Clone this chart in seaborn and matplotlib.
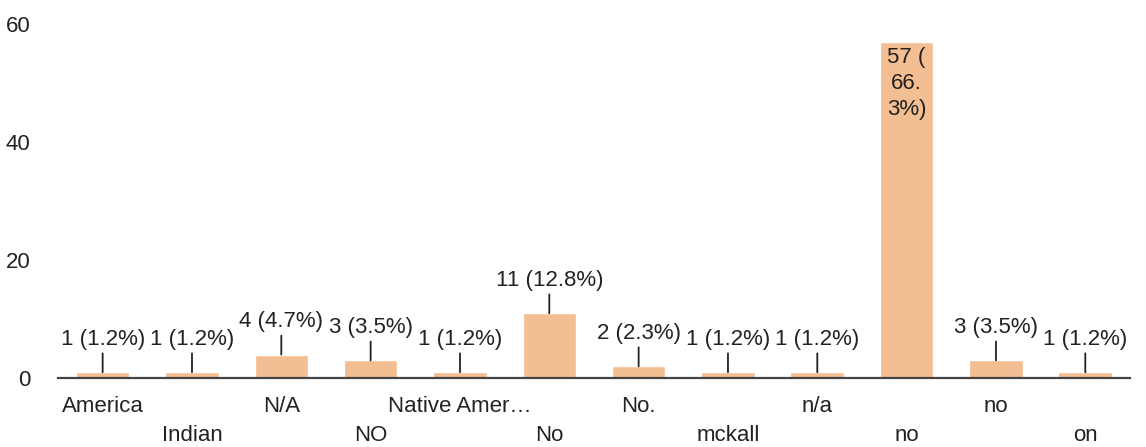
import numpy as np
import pandas as pd
import matplotlib
matplotlib.use("Agg")
import matplotlib.pyplot as plt
import seaborn as sns

categories = ["America", "Indian", "N/A", "NO", "Native Amer…", "No", "No.",
              "mckall", "n/a", "no", "no", "on"]
counts = [1, 1, 4, 3, 1, 11, 2, 1, 1, 57, 3, 1]
percents = ["1.2%", "1.2%", "4.7%", "3.5%", "1.2%", "12.8%", "2.3%",
            "1.2%", "1.2%", "66.3%", "3.5%", "1.2%"]
y_ticks = [0, 20, 40, 60]

sns.set_theme(style="white")
plt.rcParams['font.family'] = ['Liberation Sans', 'DejaVu Sans']

FS = 16

fig = plt.figure(figsize=(11.46, 4.47), dpi=100)
ax = fig.add_axes([0.0506, 0.154, 0.9354, 0.792])

df = pd.DataFrame({"pos": np.arange(len(categories)), "count": counts})
sns.barplot(data=df, x="pos", y="count", color="#F3BE92", saturation=1,
            width=0.6, ax=ax)

ax.set_ylim(0, 60)
ax.set_xlim(-0.5, len(categories) - 0.5)
ax.set_yticks(y_ticks)
ax.set_yticklabels([str(t) for t in y_ticks], fontsize=FS, color="#222222")
ax.tick_params(axis="y", length=0, pad=20)
ax.set_xlabel("")
ax.set_ylabel("")

ax.set_xticks(np.arange(len(categories)))
ax.set_xticklabels(categories, fontsize=FS, color="#222222")
ax.tick_params(axis="x", length=0)
for i, t in enumerate(ax.xaxis.get_major_ticks()):
    t.set_pad(13 if i % 2 == 0 else 34)

for s in ["top", "right", "left"]:
    ax.spines[s].set_visible(False)
ax.spines["bottom"].set_color("#444444")
ax.spines["bottom"].set_linewidth(1.6)

imax = int(np.argmax(counts))
for i, (c, p) in enumerate(zip(counts, percents)):
    label = f"{c} ({p})"
    if i == imax:
        ax.annotate(f"{c} (\n{p[:3]}\n{p[3:]})", xy=(i, c), xytext=(0, -4),
                    textcoords="offset points", ha="center", va="top",
                    fontsize=FS, color="#222222", linespacing=1.3)
    else:
        ax.annotate(label, xy=(i, c), xytext=(0, 16),
                    textcoords="offset points", ha="center", va="bottom",
                    fontsize=FS, color="#222222",
                    arrowprops=dict(arrowstyle="-", color="#222222", lw=1.3,
                                    shrinkA=0, shrinkB=0))

fig.savefig("out.png", dpi=100)
